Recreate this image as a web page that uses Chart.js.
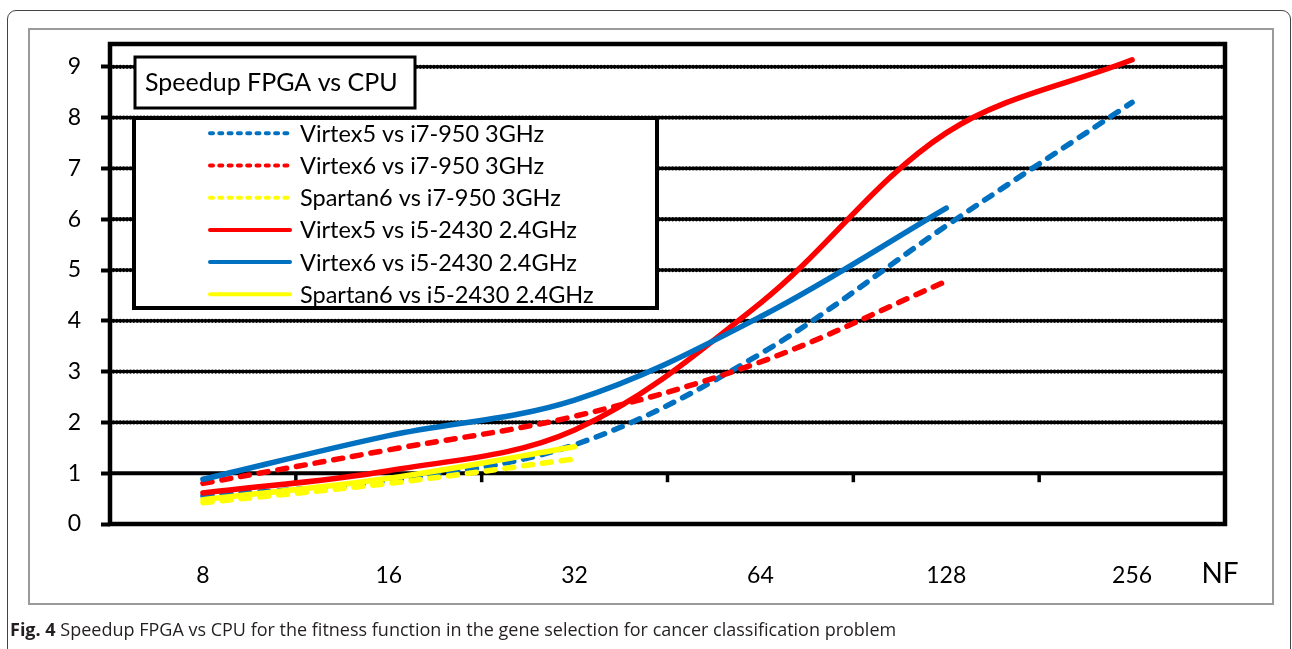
<!DOCTYPE html>
<html><head><meta charset="utf-8">
<script src="https://cdn.jsdelivr.net/npm/chart.js@4.4.1/dist/chart.umd.min.js"></script>
<style>
html,body{margin:0;padding:0;background:#fff;}
#wrap{position:relative;width:1292px;height:649px;overflow:hidden;}
#outer{position:absolute;left:7px;top:10px;width:1284px;height:720px;border:1px solid #444;border-radius:9px;box-sizing:border-box;}
#frame{position:absolute;left:28px;top:28px;width:1246px;height:577px;border:2px solid #9a9a9a;box-sizing:border-box;}
canvas{position:absolute;left:0;top:0;}
#cap{position:absolute;left:10px;top:620px;font-family:"Open Sans",sans-serif;font-size:18px;line-height:18px;color:#231f20;white-space:nowrap;}
</style></head>
<body>
<div id="wrap">
  <div id="outer"></div>
  <div id="frame"></div>
  <canvas id="c" width="1292" height="649"></canvas>
  <div id="cap"><b>Fig. 4</b> Speedup FPGA vs CPU for the fitness function in the gene selection for cancer classification problem</div>
</div>
<script>
const categories = ['8', '16', '32', '64', '128', '256'];
const seriesLabels = [
  'Virtex5 vs i7-950 3GHz',
  'Virtex6 vs i7-950 3GHz',
  'Spartan6 vs i7-950 3GHz',
  'Virtex5 vs i5-2430 2.4GHz',
  'Virtex6 vs i5-2430 2.4GHz',
  'Spartan6 vs i5-2430 2.4GHz'
];
const virtex5_i7  = [0.55, 0.86, 1.56, 3.35, 5.87, 8.30];
const virtex6_i7  = [0.80, 1.46, 2.12, 3.19, 4.78, null];
const spartan6_i7 = [0.42, 0.80, 1.28, null, null, null];
const virtex5_i5  = [0.61, 1.05, 1.85, 4.35, 7.70, 9.14];
const virtex6_i5  = [0.88, 1.74, 2.44, 4.08, 6.22, null];
const spartan6_i5 = [0.48, 0.90, 1.52, null, null, null];
const yTickValues = [0, 1, 2, 3, 4, 5, 6, 7, 8, 9];
const chartTitle = 'Speedup FPGA vs CPU';
const xAxisTitle = 'NF';

const BLUE = '#0070C0', RED = '#FF0000', YELLOW = '#FFFF00';
const seriesData = [virtex5_i7, virtex6_i7, spartan6_i7, virtex5_i5, virtex6_i5, spartan6_i5];
const seriesColors = [BLUE, RED, YELLOW, RED, BLUE, YELLOW];
const seriesDashed = [true, true, true, false, false, false];

const datasets = seriesData.map((d, i) => ({
  label: seriesLabels[i],
  data: d,
  borderColor: seriesColors[i],
  backgroundColor: seriesColors[i],
  borderWidth: 5.5,
  borderDash: seriesDashed[i] ? [9, 10] : [],
  borderCapStyle: 'round',
  borderJoinStyle: 'round',
  pointRadius: 0,
  pointHoverRadius: 0,
  tension: 0.35,
  fill: false,
  order: seriesData.length - i
}));

function seg(ctx, x1, y1, x2, y2) { ctx.beginPath(); ctx.moveTo(x1, y1); ctx.lineTo(x2, y2); ctx.stroke(); }

const decor = {
  id: 'decor',
  beforeDatasetsDraw(chart) {
    const { ctx, chartArea: a, scales: { x, y } } = chart;
    ctx.save();
    ctx.strokeStyle = '#000';
    ctx.lineWidth = 4.3;
    ctx.lineCap = 'round';
    ctx.setLineDash([0.01, 3.4]);
    yTickValues.forEach(v => {
      if (v < 2) return;
      const py = y.getPixelForValue(v);
      seg(ctx, a.left, py, a.right, py);
    });
    ctx.setLineDash([]);
    ctx.lineCap = 'butt';
    ctx.lineWidth = 4;
    const p1 = y.getPixelForValue(1);
    seg(ctx, a.left, p1, a.right, p1);
    ctx.lineWidth = 3.5;
    for (let i = 0; i < categories.length - 1; i++) {
      const px = (x.getPixelForValue(i) + x.getPixelForValue(i + 1)) / 2;
      seg(ctx, px, p1, px, p1 + 9);
    }
    ctx.restore();
  },
  afterDatasetsDraw(chart) {
    const { ctx, chartArea: a } = chart;
    ctx.save();
    ctx.strokeStyle = '#000';
    ctx.lineWidth = 4.5;
    ctx.lineJoin = 'miter';
    ctx.strokeRect(a.left, a.top, a.right - a.left, a.bottom - a.top);
    ctx.fillStyle = '#fff';
    ctx.fillRect(135, 57, 280, 51);
    ctx.lineWidth = 3;
    ctx.strokeRect(135, 57, 280, 51);
    ctx.fillStyle = '#000';
    ctx.font = '25px Lato';
    ctx.textBaseline = 'alphabetic';
    ctx.textAlign = 'left';
    ctx.fillText(chartTitle, 145, 91);
    ctx.fillStyle = '#fff';
    ctx.fillRect(134, 118, 523, 190);
    ctx.lineWidth = 4;
    ctx.strokeRect(134, 118, 523, 190);
    chart.data.datasets.forEach((ds, i) => {
      const ry = 133.3 + i * 32.2;
      ctx.strokeStyle = ds.borderColor;
      ctx.lineWidth = 4;
      ctx.lineCap = 'round';
      ctx.setLineDash(ds.borderDash.length ? [3, 6.3] : []);
      seg(ctx, 210, ry, 290, ry);
      ctx.setLineDash([]);
      ctx.fillStyle = '#000';
      ctx.font = '23.5px Lato';
      ctx.fillText(ds.label, 300, ry + 8.5);
    });
    ctx.font = '28px Lato';
    ctx.textAlign = 'center';
    ctx.fillText(xAxisTitle, 1220, 583);
    ctx.restore();
  }
};

new Chart(document.getElementById('c'), {
  type: 'line',
  data: { labels: categories, datasets },
  options: {
    responsive: false,
    animation: false,
    events: [],
    layout: { padding: { left: 10, right: 67, top: 44, bottom: 65 } },
    plugins: { legend: { display: false }, title: { display: false }, tooltip: { enabled: false } },
    scales: {
      x: {
        type: 'category',
        offset: true,
        grid: { display: false },
        border: { display: false },
        ticks: { color: '#000', font: { family: 'Lato', size: 23 }, padding: 30, maxRotation: 0, autoSkip: false },
        afterFit(s) { s.height = 60; }
      },
      y: {
        min: 0,
        max: 9.45,
        afterBuildTicks(s) { s.ticks = yTickValues.map(v => ({ value: v })); },
        grid: { display: true, drawOnChartArea: false, drawTicks: true, tickLength: 9, tickWidth: 4, tickColor: '#000' },
        border: { display: false },
        ticks: { color: '#000', font: { family: 'Lato', size: 23 }, padding: 20 },
        afterFit(s) { s.width = 100; }
      }
    }
  },
  plugins: [decor]
});
</script>
</body></html>
